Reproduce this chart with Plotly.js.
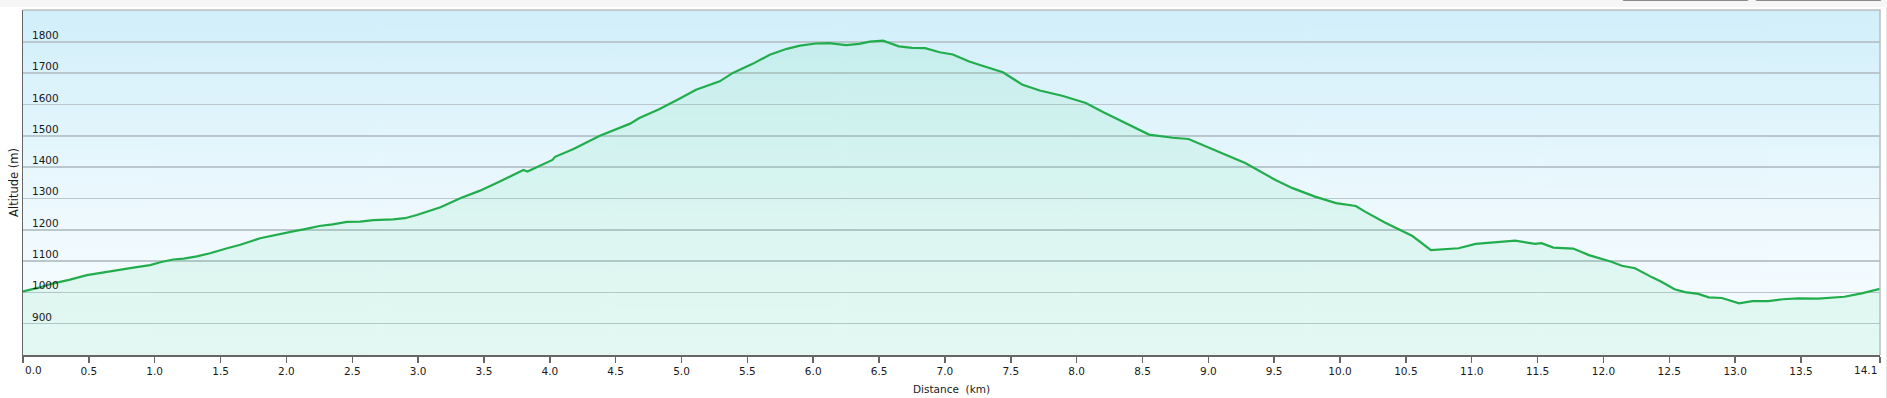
<!DOCTYPE html>
<html>
<head>
<meta charset="utf-8">
<script src="https://cdn.plot.ly/plotly-3.0.1.min.js"></script>
<style>
  html, body { margin: 0; padding: 0; background: #ffffff; }
  #wrap { position: relative; width: 1887px; height: 398px; overflow: hidden; }
  #chart { position: absolute; left: 0; top: 0; width: 1887px; height: 398px; }
  .topband { position: absolute; left: 0; top: 0; width: 1887px; height: 7px; background: #f6f6f6; z-index: 5; }
  .btn { position: absolute; top: -10px; height: 11px; border: 1px solid #8a8a8a; border-radius: 2px; background: #f3f3f3; z-index: 6; box-sizing: border-box; }
  .edge { position: absolute; right: 0; top: 7px; width: 1px; height: 391px; background: #e4e4e4; z-index: 5; }
</style>
</head>
<body>
<div id="wrap">
  <div id="chart"></div>
  <div class="topband"></div>
  <div class="btn" style="left:1622px; width:127px;"></div>
  <div class="btn" style="left:1755px; width:127px;"></div>
  <div class="edge"></div>
</div>
<script>
// Distance along the route (km)
const distance = [
  0.00, 0.12, 0.23, 0.35, 0.485, 0.62, 0.74, 0.85, 0.965, 1.05,
  1.14, 1.22, 1.32, 1.42, 1.55, 1.65, 1.80, 1.95, 2.05, 2.15,
  2.25, 2.35, 2.46, 2.56, 2.66, 2.81, 2.90, 2.99, 3.08, 3.17,
  3.32, 3.47, 3.62, 3.80, 3.83, 3.93, 4.02, 4.04, 4.18, 4.38,
  4.61, 4.68, 4.83, 4.98, 5.11, 5.29, 5.39, 5.54, 5.67, 5.80,
  5.90, 6.02, 6.12, 6.25, 6.35, 6.43, 6.53, 6.65, 6.75, 6.85,
  6.96, 7.06, 7.18, 7.26, 7.44, 7.59, 7.72, 7.89, 8.07, 8.20,
  8.42, 8.55, 8.73, 8.85, 9.10, 9.28, 9.51, 9.64, 9.81, 9.97,
  10.12, 10.19, 10.34, 10.55, 10.69, 10.90, 11.03, 11.20, 11.33, 11.48,
  11.53, 11.62, 11.77, 11.89, 12.06, 12.14, 12.24, 12.37, 12.44, 12.54,
  12.62, 12.72, 12.80, 12.90, 13.03, 13.13, 13.25, 13.36, 13.48, 13.63,
  13.73, 13.83, 13.96, 14.10
];
// Altitude (m)
const altitude = [
  1003, 1015, 1029, 1040, 1055, 1065, 1074, 1080, 1087, 1097,
  1105, 1108, 1115, 1125, 1141, 1152, 1173, 1187, 1195, 1203,
  1212, 1217, 1225, 1226, 1231, 1233, 1237, 1247, 1260, 1272,
  1301, 1325, 1354, 1391, 1386, 1405, 1423, 1433, 1458, 1500,
  1539, 1557, 1585, 1618, 1647, 1674, 1701, 1730, 1759, 1778,
  1788, 1795, 1796, 1790, 1794, 1801, 1804, 1786, 1781, 1780,
  1767, 1760, 1738, 1727, 1703, 1663, 1645, 1628, 1605, 1576,
  1532, 1504, 1494, 1490, 1445, 1413, 1359, 1333, 1306, 1285,
  1276, 1258, 1223, 1180, 1135, 1141, 1155, 1162, 1165, 1155,
  1157, 1143, 1140, 1119, 1098, 1085, 1077, 1048, 1034, 1010,
  1001, 995, 984, 982, 965, 972, 972, 978, 981, 980,
  984, 986, 997, 1011
];
const xTickVals = [0,0.5,1,1.5,2,2.5,3,3.5,4,4.5,5,5.5,6,6.5,7,7.5,8,8.5,9,9.5,10,10.5,11,11.5,12,12.5,13,13.5,14.1];
const xTickText = ["0.0","0.5","1.0","1.5","2.0","2.5","3.0","3.5","4.0","4.5","5.0","5.5","6.0","6.5","7.0","7.5","8.0","8.5","9.0","9.5","10.0","10.5","11.0","11.5","12.0","12.5","13.0","13.5","14.1"];
const yTickVals = [900,1000,1100,1200,1300,1400,1500,1600,1700,1800];
const yTickText = ["900","1000","1100","1200","1300","1400","1500","1600","1700","1800"];

// background gradient image for the plot area
function gradientURL() {
  const c = document.createElement('canvas');
  c.width = 8; c.height = 345;
  const g = c.getContext('2d');
  const grd = g.createLinearGradient(0, 0, 0, 345);
  grd.addColorStop(0, '#d1effa');
  grd.addColorStop(0.65, '#f0fafe');
  grd.addColorStop(1, '#f6fcff');
  g.fillStyle = grd;
  g.fillRect(0, 0, 8, 345);
  return c.toDataURL();
}

const font = "'DejaVu Sans', Verdana, sans-serif";
const txtColor = '#1a1a1a';
const tickFont = { family: font, size: 10.5, color: txtColor };

const trace = {
  x: distance, y: altitude,
  type: 'scatter', mode: 'lines',
  line: { color: '#22ad4c', width: 2.2 },
  fill: 'tozeroy',
  fillcolor: 'rgba(90,225,150,0.12)',
  hoverinfo: 'skip'
};

// y tick labels drawn inside the plot, just above each gridline
const yLabelAnnotations = yTickVals.map((v, i) => ({
  xref: 'paper', yref: 'y', x: 0, y: v,
  text: yTickText[i], showarrow: false,
  xanchor: 'left', yanchor: 'middle',
  xshift: 7, yshift: 7,
  font: tickFont
}));

// first and last x labels are kept inside the plot width (as in the original chart)
const last = xTickVals.length - 1;
const xTickTextDrawn = xTickText.map((t, i) => (i === 0 || i === last) ? '' : t);
const xEdgeAnnotations = [
  { xref: 'x', yref: 'paper', x: xTickVals[0], y: 0, text: xTickText[0], showarrow: false,
    xanchor: 'left', yanchor: 'middle', xshift: 0, yshift: -15, font: tickFont },
  { xref: 'x', yref: 'paper', x: xTickVals[last], y: 0, text: xTickText[last], showarrow: false,
    xanchor: 'right', yanchor: 'middle', xshift: -1, yshift: -15, font: tickFont }
];

const layout = {
  width: 1887, height: 398,
  margin: { l: 23, r: 7, t: 10, b: 43, pad: 0 },
  paper_bgcolor: '#ffffff',
  plot_bgcolor: 'rgba(0,0,0,0)',
  showlegend: false,
  font: { family: font, size: 10.5, color: txtColor },
  images: [{
    source: gradientURL(), xref: 'paper', yref: 'paper',
    x: 0, y: 1, sizex: 1, sizey: 1, sizing: 'stretch',
    xanchor: 'left', yanchor: 'top', layer: 'below'
  }],
  xaxis: {
    range: [0, 14.1],
    tickmode: 'array', tickvals: xTickVals, ticktext: xTickTextDrawn,
    ticks: 'outside', ticklen: 6, tickwidth: 1.5, tickcolor: '#666666',
    showline: true, linecolor: '#666666', linewidth: 1.5,
    showgrid: false, zeroline: false,
    ticklabeloverflow: 'allow',
    tickfont: tickFont,
    title: { text: 'Distance\u00a0 (km)', font: { family: font, size: 10.5, color: txtColor }, standoff: 9 },
    fixedrange: true
  },
  yaxis: {
    range: [800, 1902],
    tickmode: 'array', tickvals: yTickVals, ticktext: yTickText,
    ticks: '', showticklabels: false,
    showline: true, linecolor: '#666666', linewidth: 1.5,
    showgrid: true, gridcolor: '#bac7cc', gridwidth: 1.5,
    zeroline: false,
    title: { text: 'Altitude (m)', font: { family: font, size: 11.5, color: txtColor }, standoff: 0 },
    fixedrange: true
  },
  annotations: yLabelAnnotations.concat(xEdgeAnnotations),
  shapes: [{
    type: 'path', xref: 'paper', yref: 'paper',
    path: 'M 0,1 L 1,1 L 1,0',
    line: { color: '#bdbdbd', width: 1.5 }, layer: 'above'
  }]
};

Plotly.newPlot('chart', [trace], layout, { staticPlot: true, displayModeBar: false });
</script>
</body>
</html>
